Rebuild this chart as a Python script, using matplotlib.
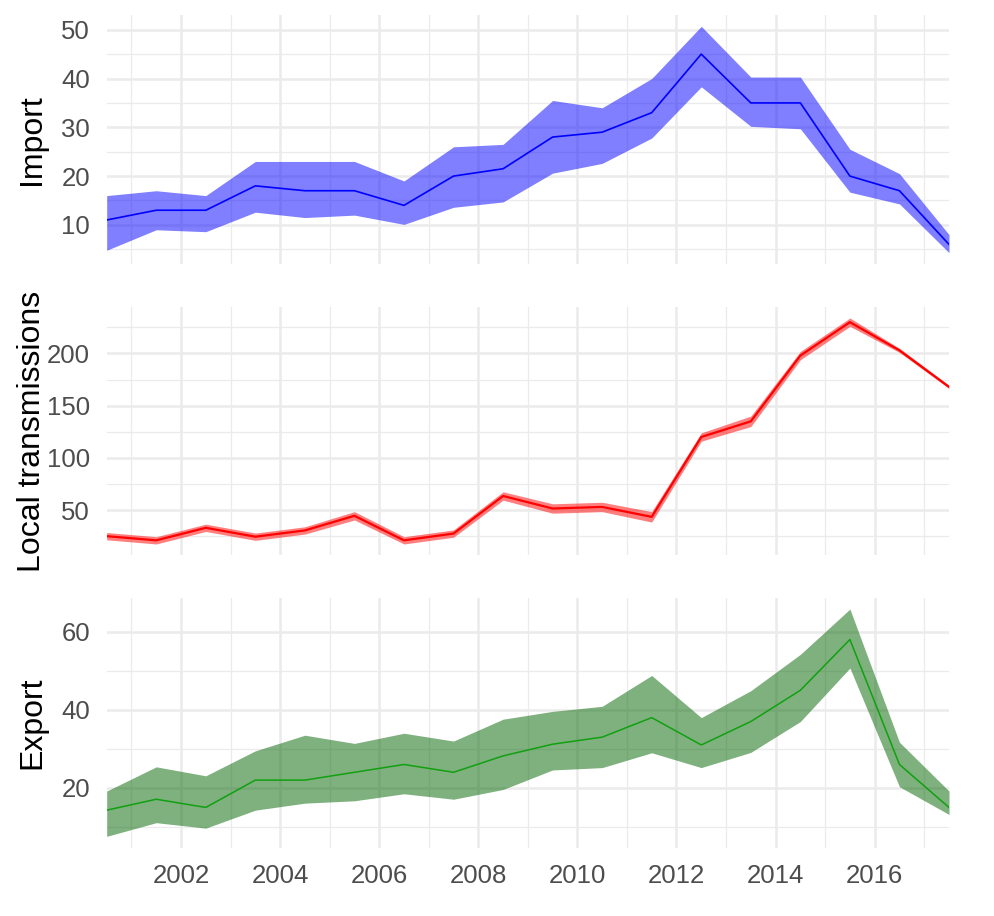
import matplotlib
matplotlib.use("Agg")
import matplotlib.pyplot as plt
from matplotlib.ticker import MultipleLocator

plt.rcParams['font.family'] = ['Liberation Sans', 'DejaVu Sans']

years = [2000.5, 2001.5, 2002.5, 2003.5, 2004.5, 2005.5, 2006.5, 2007.5, 2008.5,
         2009.5, 2010.5, 2011.5, 2012.5, 2013.5, 2014.5, 2015.5, 2016.5, 2017.5]

import_mid = [11, 13, 13, 18, 17, 17, 14, 20, 21.5, 28, 29, 33, 45, 35, 35, 20, 17, 6]
import_lo = [4.8, 9, 8.6, 12.6, 11.5, 12, 10.1, 13.6, 14.7, 20.6, 22.6, 27.8, 38.3, 30.2, 29.7, 16.7, 14.3, 4.3]
import_hi = [16, 17, 16, 23, 23, 23, 19, 26, 26.5, 35.5, 34, 40, 50.7, 40.3, 40.3, 25.5, 20.5, 8]

local_mid = [25, 21, 33, 24.5, 30.5, 44.5, 21, 27.5, 63.5, 51.5, 53, 43.5, 120, 135, 198, 230, 203, 168]
local_lo = [21.5, 17.5, 29.5, 21, 27, 40.5, 17.5, 24, 59.5, 47, 48.5, 38.5, 116, 130, 194, 226, 201, 166.5]
local_hi = [28.5, 24.5, 36.5, 28, 34, 48.5, 24.5, 31, 67.5, 56, 57.5, 48.5, 124, 140, 202, 234, 205, 169.5]

export_mid = [14.3, 17.1, 15, 22, 22, 24, 26, 24, 28.2, 31.2, 33, 38, 31, 37, 45, 58, 26, 15]
export_lo = [7.6, 11.1, 9.7, 14.3, 16.1, 16.7, 18.5, 17.1, 19.6, 24.6, 25.2, 29, 25.2, 29.1, 37, 50.7, 20.3, 13.2]
export_hi = [19.2, 25.4, 23.1, 29.5, 33.5, 31.4, 34, 32, 37.6, 39.6, 40.9, 48.8, 38, 44.9, 54.2, 65.8, 31.7, 19.2]

fig = plt.figure(figsize=(9.95, 9.16), dpi=100)

W, H = 995, 916
left_px, right_px = 106.7, 949
panels = [
    # label, mid, lo, hi, fill, line, top_px, bottom_px, major, minor, lw
    ("Import", import_mid, import_lo, import_hi, "blue", "blue", 15, 264, 10, 5, 1.2),
    ("Local transmissions", local_mid, local_lo, local_hi, "red", "red", 306.7, 555.3, 50, 25, 1.6),
    ("Export", export_mid, export_lo, export_hi, "darkgreen", "#10a010", 597.7, 847.7, 20, 10, 1.1),
]

axes = []
for label, mid, lo, hi, fcol, lcol, top, bot, maj, mnr, lw in panels:
    ax = fig.add_axes([left_px / W, 1 - bot / H, (right_px - left_px) / W, (bot - top) / H])
    ax.fill_between(years, lo, hi, color=fcol, alpha=0.5, linewidth=0, zorder=2)
    ax.plot(years, mid, color=lcol, linewidth=lw, zorder=3)
    ax.set_xlim(2000.5, 2017.5)
    ax.margins(y=0.05)

    ax.xaxis.set_major_locator(MultipleLocator(2))
    ax.xaxis.set_minor_locator(MultipleLocator(1))
    ax.yaxis.set_major_locator(MultipleLocator(maj))
    ax.yaxis.set_minor_locator(MultipleLocator(mnr))
    ax.grid(which='major', color='#ebebeb', linewidth=1.8, zorder=0)
    ax.grid(which='minor', color='#ebebeb', linewidth=0.9, zorder=0)
    ax.set_axisbelow(True)
    for s in ax.spines.values():
        s.set_visible(False)
    ax.tick_params(which='both', length=0, labelsize=18.5, labelcolor='#4d4d4d', pad=12)
    ax.tick_params(axis='x', labelbottom=False)

    ax.set_ylabel(label, fontsize=23, color='black')
    ax.yaxis.set_label_coords((47 - left_px) / (right_px - left_px), 0.5)
    axes.append(ax)

axes[-1].tick_params(axis='x', labelbottom=True)
axes[-1].xaxis.set_major_formatter(plt.FuncFormatter(lambda v, p: f"{int(round(v))}"))

fig.savefig("out.png", dpi=100)
